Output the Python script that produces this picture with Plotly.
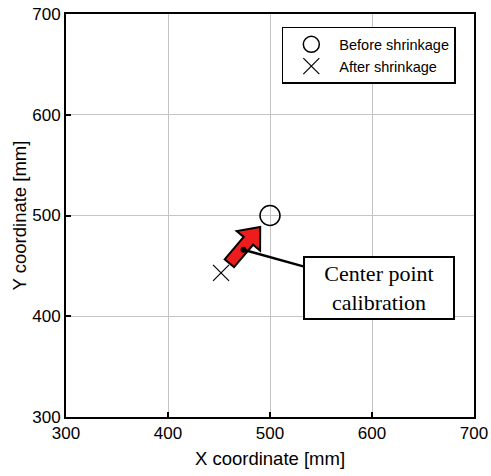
import numpy as np
import plotly.graph_objects as go

# 收缩前后中心点坐标 (mm)
before_x = [500]
before_y = [500]
after_x = [452]
after_y = [443]

tick_vals = [300, 400, 500, 600, 700]

SANS = "Liberation Sans, Arial, sans-serif"
SERIF = "Liberation Serif, Times New Roman, serif"

fig = go.Figure()
fig.add_trace(go.Scatter(
    x=before_x, y=before_y, mode="markers", name="Before shrinkage",
    marker=dict(symbol="circle-open", size=20, color="black", line=dict(width=1.5)),
))
fig.add_trace(go.Scatter(
    x=after_x, y=after_y, mode="markers", name="After shrinkage",
    marker=dict(symbol="x-thin-open", size=16, color="black", line=dict(width=1.2)),
))


def fat_arrow(p0, p1, body_hw=6.0, head_hw=15.0, head_len=18.0):
    """红色粗箭头的多边形路径（数据坐标）"""
    p0, p1 = np.array(p0, float), np.array(p1, float)
    d = p1 - p0
    u = d / np.linalg.norm(d)
    n = np.array([-u[1], u[0]])
    base = p1 - u * head_len
    pts = [p0 + n * body_hw, base + n * body_hw, base + n * head_hw, p1,
           base - n * head_hw, base - n * body_hw, p0 - n * body_hw]
    return "M " + " L ".join(f"{x:.2f},{y:.2f}" for x, y in pts) + " Z"


# 箭头位于收缩后 -> 收缩前的连线上
a = np.array([after_x[0], after_y[0]])
b = np.array([before_x[0], before_y[0]])
tail = a + (b - a) * 0.17
tip = a + (b - a) * 0.80
fig.add_shape(type="path", path=fat_arrow(tail, tip), xref="x", yref="y",
              fillcolor="#ee1c1c", line=dict(color="black", width=2))

# 标注框
fig.add_annotation(
    x=474, y=466, xref="x", yref="y",
    ax=607, ay=428.5, axref="x", ayref="y",
    text="Center point<br>calibration",
    font=dict(family=SERIF, size=22, color="black"),
    showarrow=True, arrowhead=6, arrowsize=0.6, arrowwidth=2.5, arrowcolor="black",
    bordercolor="black", borderwidth=2, bgcolor="white",
    width=146, height=58, align="center",
)

axis_common = dict(
    range=[300, 700], tickvals=tick_vals, showgrid=True, gridcolor="#c4c4c4", gridwidth=1,
    showline=True, linecolor="black", linewidth=2, mirror=True,
    ticks="inside", ticklen=5, tickcolor="black", tickwidth=1.5,
    tickfont=dict(family=SANS, size=17, color="black"), zeroline=False,
    automargin=False, ticklabeloverflow="allow",
)

fig.update_layout(
    width=491, height=476,
    paper_bgcolor="white", plot_bgcolor="white",
    margin=dict(l=66, r=17, t=14, b=59),
    font=dict(family=SANS, size=17, color="black"),
    xaxis=dict(**axis_common, title=dict(text="X coordinate [mm]", standoff=10,
                                         font=dict(family=SANS, size=18.5))),
    yaxis=dict(**axis_common, title=dict(text="Y coordinate [mm]", standoff=1,
                                         font=dict(family=SANS, size=18.5))),
    showlegend=True,
    legend=dict(x=0.529, y=0.968, xanchor="left", yanchor="top",
                bgcolor="white", bordercolor="black", borderwidth=1.5,
                font=dict(family=SANS, size=14.5, color="black"),
                tracegroupgap=0, itemwidth=46),
)

# 去掉页面 body 默认外边距，让图正好铺满窗口
fig.write_html("out.html", config={"displayModeBar": False},
               post_script="document.body.style.margin='0';")
